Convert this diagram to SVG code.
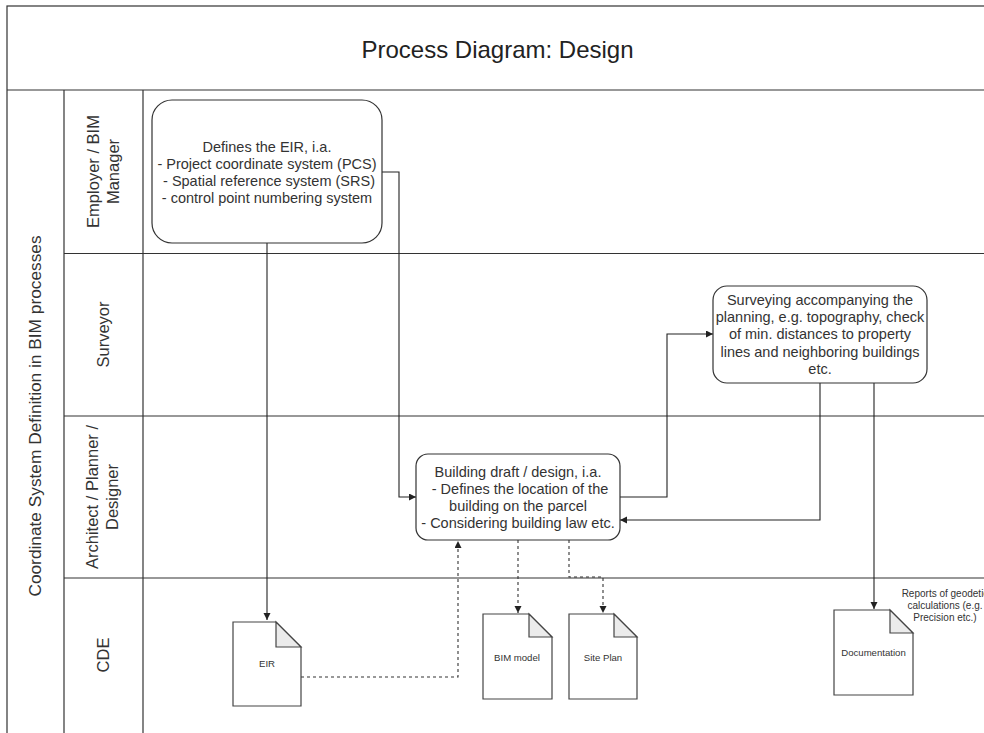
<svg xmlns="http://www.w3.org/2000/svg" width="984" height="733" viewBox="0 0 984 733">
<defs>
<style>
text{font-family:"Liberation Sans",Arial,Helvetica,sans-serif;fill:#333;}
.frame{fill:none;stroke:#333;stroke-width:1.2;}
.node{fill:#fff;stroke:#333;stroke-width:1.2;}
.nt{font-size:14.5px;text-anchor:middle;}
.lane{font-size:16.5px;text-anchor:middle;}
.doc{fill:#fff;stroke:#444;stroke-width:1.2;}
.fold{fill:#ebebeb;stroke:#444;stroke-width:1.2;}
.dt{font-size:9.6px;text-anchor:middle;}
.c{fill:none;stroke:#222;stroke-width:1.1;}
.d{fill:none;stroke:#333;stroke-width:1.1;stroke-dasharray:3 3;}
</style>
<marker id="arr" markerUnits="userSpaceOnUse" markerWidth="8" markerHeight="8" refX="7" refY="3.5" orient="auto">
<path d="M0,0 L7,3.5 L0,7 Z" fill="#222"/>
</marker>
</defs>
<rect width="984" height="733" fill="#fff"/>
<g id="pool">
<rect class="frame" x="7" y="6" width="990" height="740"/>
<line class="frame" x1="7" y1="90" x2="984" y2="90"/>
<line class="frame" x1="64" y1="90" x2="64" y2="733"/>
<line class="frame" x1="143" y1="90" x2="143" y2="733"/>
<line class="frame" x1="64" y1="253.5" x2="984" y2="253.5"/>
<line class="frame" x1="64" y1="416" x2="984" y2="416"/>
<line class="frame" x1="64" y1="578" x2="984" y2="578"/>
<text x="497.5" y="58" style="font-size:24px;text-anchor:middle;fill:#222">Process Diagram: Design</text>
<text transform="translate(41,416) rotate(-90)" style="font-size:17.3px;text-anchor:middle">Coordinate System Definition in BIM processes</text>
</g>
<g id="lane-employer">
<text class="lane" transform="translate(99,171.5) rotate(-90)">Employer / BIM</text>
<text class="lane" transform="translate(119,171.5) rotate(-90)">Manager</text>
</g>
<g id="lane-surveyor">
<text class="lane" transform="translate(109,334.5) rotate(-90)">Surveyor</text>
</g>
<g id="lane-architect">
<text class="lane" transform="translate(98,497) rotate(-90)">Architect / Planner /</text>
<text class="lane" transform="translate(118,497) rotate(-90)">Designer</text>
</g>
<g id="lane-cde">
<text class="lane" transform="translate(109,655) rotate(-90)">CDE</text>
</g>
<g id="connectors">
<path class="c" d="M267,243 L267,620" marker-end="url(#arr)"/>
<path class="c" d="M382,172 L399,172 L399,497 L416,497" marker-end="url(#arr)"/>
<path class="c" d="M620,497 L667,497 L667,334 L713,334" marker-end="url(#arr)"/>
<path class="c" d="M820,383 L820,520 L620,520" marker-end="url(#arr)"/>
<path class="c" d="M874,383 L874,609" marker-end="url(#arr)"/>
<path class="d" d="M301,677 L458,677 L458,541" marker-end="url(#arr)"/>
<path class="d" d="M518,540 L518,613" marker-end="url(#arr)"/>
<path class="d" d="M569,540 L569,577 L603,577 L603,613" marker-end="url(#arr)"/>
</g>
<g id="node-eir-def">
<rect class="node" x="152" y="100" width="230" height="143" rx="20" ry="20"/>
<text class="nt" x="267" y="152">Defines the EIR, i.a.</text>
<text class="nt" x="267" y="169">- Project coordinate system (PCS)</text>
<text class="nt" x="269" y="186">- Spatial reference system (SRS)</text>
<text class="nt" x="267" y="203">- control point numbering system</text>
</g>
<g id="node-building">
<rect class="node" x="416" y="454" width="204" height="86" rx="12" ry="12"/>
<text class="nt" x="518" y="477">Building draft / design, i.a.</text>
<text class="nt" x="520" y="494">- Defines the location of the</text>
<text class="nt" x="518" y="511">building on the parcel</text>
<text class="nt" x="518" y="528">- Considering building law etc.</text>
</g>
<g id="node-surveying">
<rect class="node" x="713" y="286" width="214" height="97" rx="14" ry="14"/>
<text class="nt" x="820" y="305">Surveying accompanying the</text>
<text class="nt" x="820" y="322">planning, e.g. topography, check</text>
<text class="nt" x="820" y="339">of min. distances to property</text>
<text class="nt" x="820" y="357">lines and neighboring buildings</text>
<text class="nt" x="820" y="374">etc.</text>
</g>
<g id="doc-eir">
<path class="doc" d="M233,622 L276,622 L301,647 L301,706 L233,706 Z"/>
<path class="fold" d="M276,622 L276,647 L301,647 Z"/>
<text class="dt" x="267" y="666.5">EIR</text>
</g>
<g id="doc-bim">
<path class="doc" d="M483,614 L529,614 L552,637 L552,699 L483,699 Z"/>
<path class="fold" d="M529,614 L529,637 L552,637 Z"/>
<text class="dt" x="517" y="660.5">BIM model</text>
</g>
<g id="doc-site">
<path class="doc" d="M569,614 L614,614 L637,637 L637,699 L569,699 Z"/>
<path class="fold" d="M614,614 L614,637 L637,637 Z"/>
<text class="dt" x="603" y="660.5">Site Plan</text>
</g>
<g id="doc-documentation">
<path class="doc" d="M834,610 L890,610 L913,633 L913,695 L834,695 Z"/>
<path class="fold" d="M890,610 L890,633 L913,633 Z"/>
<text class="dt" x="873.5" y="655.5">Documentation</text>
</g>
<g id="label-reports">
<text x="945" y="596.5" style="font-size:10px;text-anchor:middle">Reports of geodetic</text>
<text x="945" y="608.5" style="font-size:10px;text-anchor:middle">calculations (e.g.</text>
<text x="945" y="620.5" style="font-size:10px;text-anchor:middle">Precision etc.)</text>
</g>
</svg>
